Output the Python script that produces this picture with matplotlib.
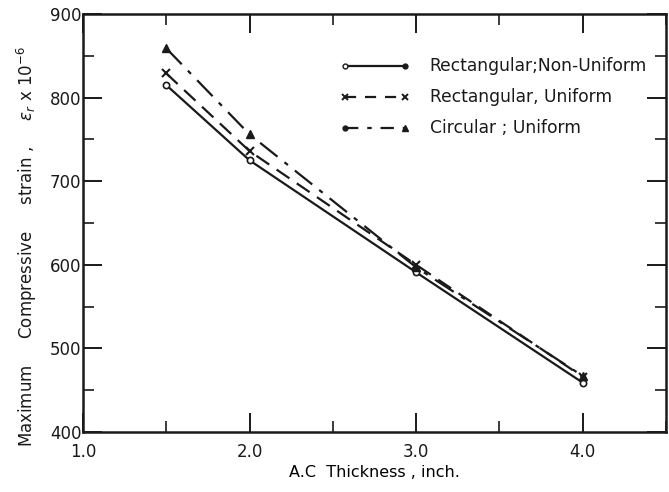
import matplotlib
matplotlib.use("Agg")
import matplotlib.pyplot as plt
from matplotlib.ticker import MultipleLocator

# data
thickness = [1.5, 2.0, 3.0, 4.0]
rect_nonuniform = [815, 725, 591, 459]
rect_uniform = [829, 736, 600, 466]
circ_uniform = [859, 756, 597, 467]

labels = ["Rectangular;Non-Uniform", "Rectangular, Uniform", "Circular ; Uniform"]

plt.rcParams['font.family'] = ['DejaVu Sans']
INK = '#1a1a1a'

fig = plt.figure(figsize=(6.69, 4.92), dpi=100)
ax = fig.add_axes([0.124, 0.122, 0.8715, 0.8495])

ax.plot(thickness, rect_nonuniform, color=INK, lw=1.6, ls='-',
        marker='o', ms=4.5, mfc='white', mew=1.2)
ax.plot(thickness, rect_uniform, color=INK, lw=1.6, ls=(0, (7, 4)),
        marker='x', ms=6, mew=1.5)
ax.plot(thickness, circ_uniform, color=INK, lw=1.6, ls=(0, (10, 4, 2, 4)),
        marker='^', ms=5.5)

ax.set_xlim(1.0, 4.5)
ax.set_ylim(400, 900)
ax.set_xticks([1.0, 2.0, 3.0, 4.0])
ax.set_xticklabels(['1.0', '2.0', '3.0', '4.0'])
ax.xaxis.set_minor_locator(MultipleLocator(0.5))
ax.yaxis.set_major_locator(MultipleLocator(100))
ax.yaxis.set_minor_locator(MultipleLocator(50))

ax.tick_params(which='both', direction='in', top=True, right=True, colors=INK,
               labelsize=12)
ax.tick_params(which='major', length=14, width=1.4, pad=3)
ax.tick_params(which='minor', length=8, width=1.2)
ax.tick_params(axis='y', pad=1)
ax.tick_params(axis='x', pad=8)
for s in ax.spines.values():
    s.set_linewidth(1.8)
    s.set_color(INK)

ax.set_xlabel('A.C  Thickness , inch.', fontsize=11.5, labelpad=3)
fig.text(0.040, 0.5,
         r'Maximum     Compressive     strain ,     $\epsilon_r$ x 10$^{-6}$',
         rotation=90, fontsize=12, ha='center', va='center', color=INK)

# hand drawn legend keys
rows = [0.876, 0.801, 0.727]
x0, x1, xt = 0.449, 0.552, 0.595
tr = ax.transAxes
ax.plot([x0, x1], [rows[0]] * 2, transform=tr, color=INK, lw=1.6)
ax.plot([x0], [rows[0]], 'o', transform=tr, ms=3.5, mfc='white', mec=INK, mew=1)
ax.plot([x1], [rows[0]], 'o', transform=tr, ms=3.5, color=INK)
ax.plot([x0, x1], [rows[1]] * 2, transform=tr, color=INK, lw=1.6, ls=(0, (5, 4)),
        marker='x', ms=5, mew=1.4)
ax.plot([x0, x1], [rows[2]] * 2, transform=tr, color=INK, lw=1.6, ls=(0, (6, 4, 2, 4)))
ax.plot([x0], [rows[2]], 'o', transform=tr, ms=3.5, color=INK)
ax.plot([x1], [rows[2]], '^', transform=tr, ms=4.5, color=INK)
for y, lab in zip(rows, labels):
    ax.text(xt, y, lab, transform=tr, fontsize=12.3, va='center', ha='left', color=INK)

fig.savefig('out.png', dpi=100)
